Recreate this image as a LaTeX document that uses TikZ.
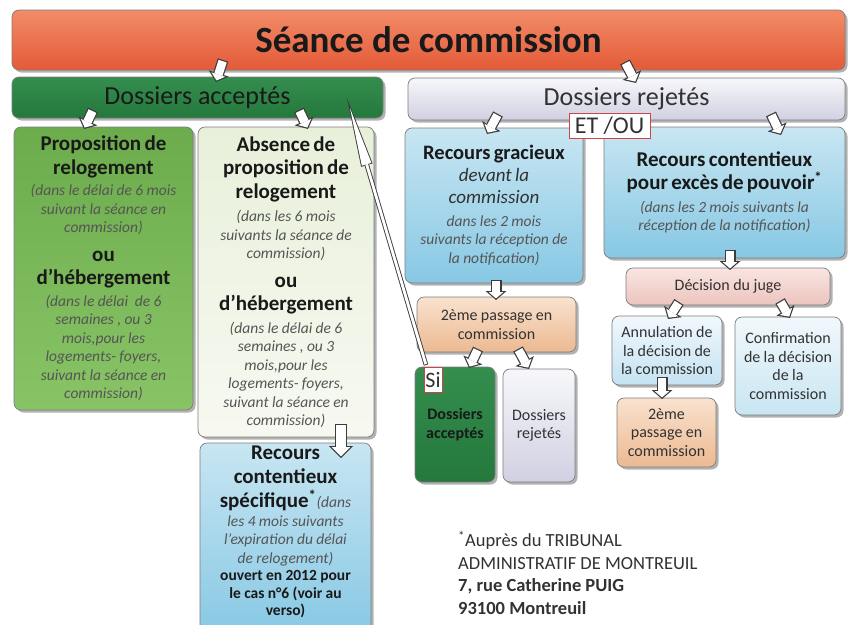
\documentclass[tikz,border=0pt]{standalone}
\usepackage{fontspec}
\setmainfont{Carlito}
\usetikzlibrary{arrows.meta,shadows}

% colours
\definecolor{arrline}{RGB}{60,60,60}
\definecolor{boxline}{RGB}{125,125,125}
\definecolor{titleTop}{RGB}{242,140,105}
\definecolor{titleBot}{RGB}{228,90,55}
\definecolor{accTop}{RGB}{52,142,78}
\definecolor{accBot}{RGB}{36,120,60}
\definecolor{rejTop}{RGB}{247,247,251}
\definecolor{rejBot}{RGB}{208,208,226}
\definecolor{propTop}{RGB}{108,172,76}
\definecolor{propBot}{RGB}{136,196,102}
\definecolor{absTop}{RGB}{232,240,218}
\definecolor{absBot}{RGB}{247,249,241}
\definecolor{blueTop}{RGB}{200,230,242}
\definecolor{blueBot}{RGB}{135,200,228}
\definecolor{peachTop}{RGB}{249,226,206}
\definecolor{peachBot}{RGB}{236,185,145}
\definecolor{pinkTop}{RGB}{250,229,225}
\definecolor{pinkBot}{RGB}{236,196,190}
\definecolor{paleTop}{RGB}{241,248,252}
\definecolor{paleBot}{RGB}{196,226,242}
\definecolor{etred}{RGB}{200,70,70}
\definecolor{headText}{RGB}{25,25,25}
\definecolor{darkText}{RGB}{50,50,50}
\definecolor{itgray}{RGB}{85,85,85}

% type sizes
\newcommand\ftitle{\fontsize{37}{42}\selectfont\bfseries}
\newcommand\fhead{\fontsize{26}{30}\selectfont}
\newcommand\fbig{\fontsize{21}{23.5}\selectfont\bfseries}
\newcommand\fsub{\fontsize{15.5}{18.5}\selectfont\itshape\color{itgray}}
\newcommand\fmid{\fontsize{16}{18.5}\selectfont}

\tikzset{
  box/.style={rounded corners=7pt, draw=boxline, line width=0.7pt,
    inner sep=2pt, outer sep=0pt, align=center, anchor=north west,
    text=darkText,
    drop shadow={shadow xshift=2.5pt, shadow yshift=-2.5pt, opacity=0.3, fill=black}},
  tag/.style={draw=etred, fill=white, line width=1pt, inner sep=0pt,
    outer sep=0pt, anchor=north west, text=darkText},
  % white block arrows with a dark outline
  hollow/.style={draw=arrline, line width=11pt,
    -{Triangle[length=9pt,width=21pt,line width=0pt]},
    postaction={draw=white, line width=8.6pt,
      -{Triangle[length=6.2pt,width=14.5pt,line width=0pt]},
      shorten <=1.2pt, shorten >=1.6pt}},
  hollowbig/.style={draw=arrline, line width=12pt,
    -{Triangle[length=12pt,width=24pt,line width=0pt]},
    postaction={draw=white, line width=9.6pt,
      -{Triangle[length=9.1pt,width=18.2pt,line width=0pt]},
      shorten <=1.2pt, shorten >=1.7pt}},
  hollowthin/.style={draw=arrline, line width=4.6pt,
    -{Triangle[length=70pt,width=12pt,line width=0pt]},
    postaction={draw=white, line width=2.8pt,
      -{Triangle[length=58.6pt,width=10pt,line width=0pt]},
      shorten <=0.9pt, shorten >=10.5pt}},
}

\begin{document}
\begin{tikzpicture}[x=1pt,y=-1pt]
\useasboundingbox (0,0) rectangle (853,624);
\fill[white] (0,0) rectangle (853,624);

% top level
\node[box, top color=titleTop, bottom color=titleBot, text=headText,
  minimum width=833pt, minimum height=60pt] (title) at (12,10)
  {\ftitle Séance de commission};
\node[box, top color=accTop, bottom color=accBot, text=headText,
  minimum width=371pt, minimum height=41pt] (acc) at (12,77)
  {\fhead Dossiers acceptés};
\node[box, top color=rejTop, bottom color=rejBot, text=darkText,
  minimum width=437pt, minimum height=42pt] (rej) at (408,78)
  {\fhead Dossiers rejetés};

% accepted branch
\node[box, top color=propTop, bottom color=propBot, text=headText,
  minimum width=179pt, minimum height=283pt, text width=173pt] (prop) at (14,127) {%
  {\fbig Proposition de\\ relogement\par}\vspace{3pt}%
  {\fsub (dans le délai de 6 mois\\ suivant la séance en\\ commission)\par}\vspace{5pt}%
  {\fbig ou\\ d'hébergement\par}\vspace{3pt}%
  {\fsub (dans le délai~ de 6\\ semaines , ou 3\\ mois,pour les\\ logements- foyers,\\ suivant la séance en\\ commission)\par}};
\node[box, top color=absTop, bottom color=absBot, text=headText,
  minimum width=176pt, minimum height=310pt, text width=170pt] (abs) at (198,127) {%
  {\fbig Absence de\\ proposition de\\ relogement\par}\vspace{5pt}%
  {\fsub (dans les 6 mois\\ suivants la séance de\\ commission)\par}\vspace{5pt}%
  {\fbig ou\\ d'hébergement\par}\vspace{4pt}%
  {\fsub (dans le délai de 6\\ semaines , ou 3\\ mois,pour les\\ logements- foyers,\\ suivant la séance en\\ commission)\par}};
\node[box, top color=blueTop, bottom color=blueBot, text=headText,
  minimum width=171pt, minimum height=192pt, text width=165pt] (spec) at (200,443) {%
  {\fontsize{21}{24}\selectfont\bfseries Recours\\ contentieux\\ spécifique\textsuperscript{*}{\fsub\mdseries (dans}\par}%
  {\fsub les 4 mois suivants\\ l'expiration du délai\\ de relogement)\par}%
  {\fontsize{15.5}{17.5}\selectfont\bfseries ouvert en 2012 pour\\ le cas n°6 (voir au\\ verso)\par}\vspace*{14pt}};

% rejected branch
\node[box, top color=blueTop, bottom color=blueBot, text=headText,
  minimum width=178pt, minimum height=155pt, text width=172pt] (grac) at (405,128) {%
  {\fontsize{20.5}{23}\selectfont\bfseries Recours gracieux\par}%
  {\fontsize{19}{22}\selectfont\itshape\color{darkText} devant la\\ commission\par}\vspace{4pt}%
  {\fsub dans les 2 mois\\ suivants la réception de\\ la notification)\par}};
\node[box, top color=blueTop, bottom color=blueBot, text=headText,
  minimum width=241pt, minimum height=131pt, text width=235pt] (cont) at (604,127) {%
  {\fbig Recours contentieux\\ pour excès de pouvoir\textsuperscript{*}\par}\vspace{4pt}%
  {\fsub (dans les 2 mois suivants la\\ réception de la notification)\par}};
\node[box, top color=peachTop, bottom color=peachBot,
  minimum width=159pt, minimum height=55pt, text width=153pt] (pass1) at (417,297)
  {\fmid 2ème passage en\\ commission\par};
\node[box, top color=accTop, bottom color=accBot, text=headText,
  minimum width=80pt, minimum height=115pt, text width=76pt] (acc2) at (415,367)
  {\fontsize{16}{18.5}\selectfont\bfseries Dossiers\\ acceptés\par};
\node[box, top color=rejTop, bottom color=rejBot,
  minimum width=72pt, minimum height=113pt, text width=68pt] (rej2) at (503,369)
  {\fmid Dossiers\\ rejetés\par};
\node[box, top color=pinkTop, bottom color=pinkBot,
  minimum width=204pt, minimum height=37pt] (dec) at (626,268)
  {\fmid Décision du juge};
\node[box, top color=paleTop, bottom color=paleBot,
  minimum width=110pt, minimum height=69pt, text width=106pt] (ann) at (612,316)
  {\fmid Annulation de\\ la décision de\\ la commission\par};
\node[box, top color=paleTop, bottom color=blueTop,
  minimum width=106pt, minimum height=98pt, text width=102pt] (conf) at (735,317)
  {\fmid Confirmation\\ de la décision\\ de la\\ commission\par};
\node[box, top color=peachTop, bottom color=peachBot,
  minimum width=99pt, minimum height=69pt, text width=95pt] (pass2) at (617,398)
  {\fmid 2ème\\ passage en\\ commission\par};

% tags
\node[tag, minimum width=81pt, minimum height=25pt] (etou) at (569,113)
  {\fontsize{24}{26}\selectfont ET /OU};
\node[tag, minimum width=18pt, minimum height=25pt] (si) at (424,367)
  {\fontsize{22}{24}\selectfont Si};

% footnote
\node[anchor=north west, align=left, inner sep=0pt, text=darkText,
  font=\fontsize{18.5}{22.5}\selectfont] (note) at (458,531)
  {\textsuperscript{*}Auprès du TRIBUNAL\\ ADMINISTRATIF DE MONTREUIL\\
   \textbf{7, rue Catherine PUIG}\\ \textbf{93100 Montreuil}};

% connectors
\draw[hollow] ([shift={(211,-10)}]title.south west) -- ([shift={(204,5)}]acc.north west);
\draw[hollow] ([shift={(613,-8)}]title.south west) -- ([shift={(228,5)}]rej.north west);
\draw[hollow] ([shift={(81,-8)}]acc.south west) -- ([shift={(70,2)}]prop.north west);
\draw[hollow] ([shift={(287,-8)}]acc.south west) -- ([shift={(110,2)}]abs.north west);
\draw[hollow] ([shift={(90,-6)}]rej.south west) -- ([shift={(82,6)}]grac.north west);
\draw[hollow] ([shift={(363,-6)}]rej.south west) -- ([shift={(177,8)}]cont.north west);
\draw[hollow] ([shift={(126,-8)}]cont.south west) -- ([shift={(104,2)}]dec.north west);
\draw[hollow] ([shift={(91,-3)}]grac.south west) -- ([shift={(79,3)}]pass1.north west);
\draw[hollow] ([shift={(61,-3)}]pass1.south west) -- ([shift={(54,1)}]acc2.north west);
\draw[hollow] ([shift={(101,-3)}]pass1.south west) -- ([shift={(26,0)}]rej2.north west);
\draw[hollow] ([shift={(53,-3)}]dec.south west) -- ([shift={(56,3)}]ann.north west);
\draw[hollow] ([shift={(154,-4)}]dec.south west) -- ([shift={(55,1)}]conf.north west);
\draw[hollow] ([shift={(50,-8)}]ann.south west) -- ([shift={(45,1)}]pass2.north west);
\draw[hollowbig] ([shift={(143,-13)}]abs.south west) -- ([shift={(141,15)}]spec.north west);
\draw[hollowthin] ([shift={(2,-2)}]si.north west) -- ([shift={(335,21)}]acc.north west);
\end{tikzpicture}
\end{document}
